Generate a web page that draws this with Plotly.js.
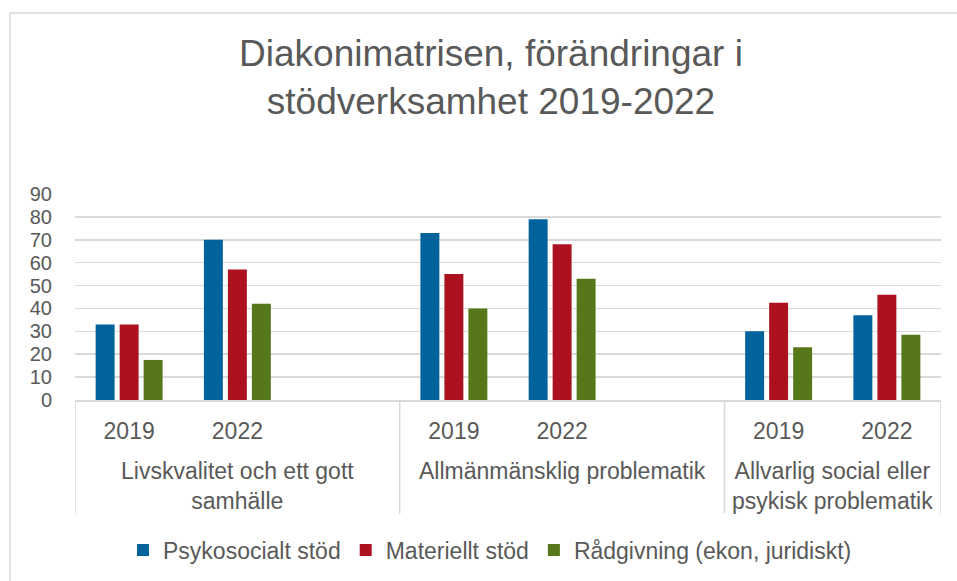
<!DOCTYPE html>
<html>
<head>
<meta charset="utf-8">
<script src="https://cdn.plot.ly/plotly-3.0.1.min.js"></script>
<style>html,body{margin:0;padding:0;background:#fff;}#chart{width:957px;height:581px;}</style>
</head>
<body>
<div id="chart"></div>
<script>
// ---- data ----
var titleText = "Diakonimatrisen, förändringar i<br>stödverksamhet 2019-2022";
var seriesNames = ["Psykosocialt stöd", "Materiellt stöd", "Rådgivning (ekon, juridiskt)"];
var seriesColors = ["#00639B", "#AB111F", "#57771B"];
// slot labels (empty slots are blank spacer rows in the source table)
var slotLabels = ["2019", "2022", "", "2019", "2022", "", "2019", "2022"];
var psykosocialt = [33, 70, null, 73, 79, null, 30, 37];
var materiellt   = [33, 57, null, 55, 68, null, 42.5, 46];
var radgivning   = [17.5, 42, null, 40, 53, null, 23, 28.5];
var groupLabels = ["Livskvalitet och ett gott<br>samhälle", "Allmänmänsklig problematik", "Allvarlig social eller<br>psykisk problematik"];
var groupFirstSlot = [0, 3, 6];
var groupLastSlot  = [2, 5, 7];
var yTicks = [0, 10, 20, 30, 40, 50, 60, 70, 80, 90];

// ---- build ----
var slotX = slotLabels.map(function (_, i) { return i; });
var seriesValues = [psykosocialt, materiellt, radgivning];
var traces = seriesValues.map(function (vals, k) {
  return {
    type: "bar",
    name: seriesNames[k],
    x: slotX,
    y: vals,
    marker: { color: seriesColors[k] },
    hoverinfo: "skip"
  };
});

var grey = "#595959";
var lineGrey = "#D9D9D9";
var font = "Liberation Sans, Arial, sans-serif";
var fs = 23;

var shapes = [];
// chart outer border
shapes.push({ type: "rect", xref: "paper", yref: "paper", x0: -65/866, x1: 2, y0: -3, y1: 389/207,
  line: { color: lineGrey, width: 1.5 }, fillcolor: "rgba(0,0,0,0)", layer: "below" });
// group dividers
var dividers = [];
groupFirstSlot.forEach(function (s) { dividers.push(s - 0.5); });
dividers.push(groupLastSlot[groupLastSlot.length - 1] + 0.5);
dividers.forEach(function (d) {
  shapes.push({ type: "line", xref: "x", yref: "paper", x0: d, x1: d, y0: -114/207, y1: 0,
    line: { color: lineGrey, width: 1.5 } });
});

var annotations = groupLabels.map(function (g, i) {
  return { xref: "x", yref: "paper", x: (groupFirstSlot[i] + groupLastSlot[i]) / 2, y: -56/207,
    yanchor: "top", xanchor: "center", showarrow: false, text: g, align: "center",
    font: { family: font, size: fs, color: grey } };
});

var layout = {
  width: 957, height: 581,
  margin: { l: 75, r: 16, t: 194, b: 180 },
  paper_bgcolor: "#fff", plot_bgcolor: "#fff",
  font: { family: font, size: fs, color: grey },
  title: { text: titleText, x: 491/957, xanchor: "center", xref: "container",
    y: 1 - 66/581, yref: "container", yanchor: "top",
    font: { family: font, size: 37, color: grey } },
  barmode: "group", bargap: 0.335, bargroupgap: 0.21,
  xaxis: { range: [-0.5, 7.5], tickvals: slotX, ticktext: slotLabels, ticks: "",
    showgrid: false, zeroline: false, showline: true, linecolor: lineGrey, linewidth: 1.5,
    ticklabelstandoff: 10, tickfont: { family: font, size: fs, color: grey }, fixedrange: true },
  yaxis: { range: [0, 90], tickvals: yTicks, ticks: "", showgrid: true, gridcolor: lineGrey, gridwidth: 1.5,
    zeroline: false, showline: false, ticklabelstandoff: 22,
    tickfont: { family: font, size: 20, color: grey }, fixedrange: true },
  legend: { orientation: "h", x: (490 - 75)/866, xanchor: "center", y: -149/207, yanchor: "middle",
    font: { family: font, size: fs, color: grey }, traceorder: "normal" },
  shapes: shapes,
  annotations: annotations
};

Plotly.newPlot("chart", traces, layout, { staticPlot: true, displayModeBar: false });
</script>
</body>
</html>
